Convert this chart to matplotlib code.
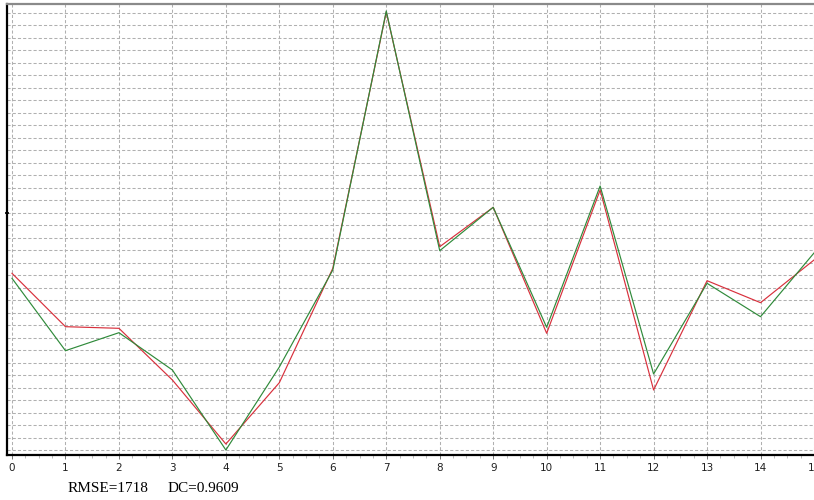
import matplotlib
matplotlib.use("Agg")
import matplotlib.pyplot as plt
import numpy as np
from matplotlib.ticker import MultipleLocator

# sample index and the two series (observed / simulated)
idx = np.arange(16)
sim_red = [30270, 21730, 21470, 13200, 2960, 12770, 31070, 72080,
           34530, 40830, 20670, 43600, 11600, 29090, 25570, 32400]
obs_green = [29470, 17890, 20770, 14800, 2000, 15280, 30800, 72240,
             33890, 40830, 21630, 44240, 14160, 28670, 23330, 33520]
stats_rmse = "RMSE=1718"
stats_dc = "DC=0.9609"

fig = plt.figure(figsize=(8.14, 5.0), dpi=100)
ax = fig.add_axes([7 / 814, 45 / 500, 807 / 814, 451 / 500])

ax.plot(idx, sim_red, color='#d8303c', linewidth=0.85, zorder=3)
ax.plot(idx, obs_green, color='#2f8a3a', linewidth=0.85, zorder=4)

ax.set_xlim(-0.0935, 15.0)
ax.set_ylim(1200, 73360)

# dashed grid
for gy in np.arange(2000, 73000, 2000):
    ax.axhline(gy, color='#b0b0b0', linewidth=0.75, linestyle=(0, (3, 2)), zorder=1)
for gx in idx:
    ax.axvline(gx, color='#b0b0b0', linewidth=0.75, linestyle=(0, (3, 2)), zorder=1)

ax.set_xticks(idx)
ax.set_xticklabels([str(i) for i in idx], fontsize=7.5, color='#202020',
                   family='DejaVu Sans')
ax.xaxis.set_minor_locator(MultipleLocator(0.25))
ax.tick_params(axis='x', which='major', length=3, width=0.6, color='#606060', pad=3)
ax.tick_params(axis='x', which='minor', length=2, width=0.5, color='#a0a0a0')
ax.set_yticks([40000])
ax.set_yticklabels([''])
ax.tick_params(axis='y', which='major', length=3, width=1.2, color='black',
               direction='inout')

ax.spines['left'].set_linewidth(1.6)
ax.spines['bottom'].set_linewidth(1.6)
ax.spines['top'].set_color('#8a8a8a')
ax.spines['top'].set_linewidth(1.6)
ax.spines['right'].set_visible(False)

fig.text(68 / 814, 0.022, stats_rmse, fontsize=11, family='Liberation Serif',
         va='center', ha='left')
fig.text(168 / 814, 0.022, stats_dc, fontsize=11, family='Liberation Serif',
         va='center', ha='left')

fig.savefig('out.png', dpi=100)
